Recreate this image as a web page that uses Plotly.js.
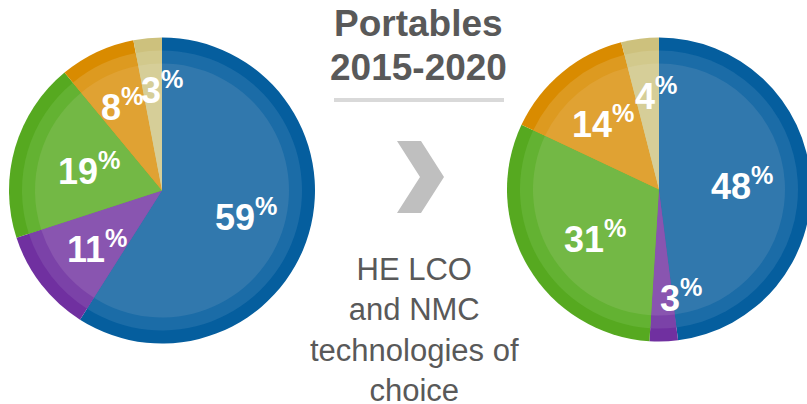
<!DOCTYPE html>
<html>
<head>
<meta charset="utf-8">
<script src="https://cdn.plot.ly/plotly-3.0.1.min.js"></script>
<style>
  html, body { margin: 0; padding: 0; background: #ffffff; overflow: hidden; }
  #chart { width: 815px; height: 404px; }
</style>
</head>
<body>
<div id="chart"></div>
<script>
// ---- data ----
const categories = ['Chemistry 1', 'Chemistry 2', 'Chemistry 3', 'Chemistry 4', 'Chemistry 5'];
const values2015 = [59, 11, 19, 8, 3];
const values2020 = [48, 3, 31, 14, 4];
const titleLines = ['Portables', '2015-2020'];
const noteLines = ['HE LCO', 'and NMC', 'technologies of', 'choice'];

// ---- styles ----
const outerColors = ['#055e9e', '#7030a0', '#56a920', '#d98b00', '#cdc17d'];
const midColors   = ['#1b6ca7', '#7b42a8', '#63b232', '#dd9a20', '#d2c98c'];
const innerColors = ['#3178ad', '#8955b0', '#73b845', '#e0a233', '#d6ce98'];

const W = 815, H = 404;
const pies = [
  { values: values2015, cx: 162, cy: 190.5, r: 153,
    labelFrac: [0.57, 0.56, 0.50, 0.62, 0.67], labelDx: [0, 3, 0, 0, 10], labelDy: [0, 4, 0, 0, 0] },
  { values: values2020, cx: 659, cy: 189.5, r: 152,
    labelFrac: [0.55, 0.70, 0.52, 0.58, 0.63], labelDx: [0, 19, 4, 0, 9], labelDy: [0, 0, 7, 0, 0] }
];
const ringWidth = 13;

function px(x) { return x / W; }
function py(y) { return 1 - y / H; }

const traces = [];
const annotations = [];

pies.forEach(p => {
  [[p.r, outerColors], [p.r - ringWidth, midColors], [p.r - 2 * ringWidth, innerColors]].forEach(([rr, cols]) => {
    traces.push({
      type: 'pie',
      labels: categories,
      values: p.values,
      sort: false,
      direction: 'clockwise',
      rotation: 0,
      textinfo: 'none',
      hoverinfo: 'none',
      marker: { colors: cols, line: { width: 0 } },
      domain: { x: [px(p.cx - rr), px(p.cx + rr)], y: [py(p.cy + rr), py(p.cy - rr)] },
      showlegend: false
    });
  });
  // labels derived from slice angles
  const total = p.values.reduce((a, b) => a + b, 0);
  let cum = 0;
  p.values.forEach((v, i) => {
    const mid = (cum + v / 2) / total * 2 * Math.PI;
    cum += v;
    const d = p.r * p.labelFrac[i];
    const x = p.cx + Math.sin(mid) * d + p.labelDx[i];
    const y = p.cy - Math.cos(mid) * d + p.labelDy[i];
    annotations.push({
      xref: 'paper', yref: 'paper', x: px(x), y: py(y),
      xanchor: 'center', yanchor: 'middle', showarrow: false,
      text: '<b>' + Math.round(v / total * 100) + '<sup>%</sup></b>',
      font: { family: 'Liberation Sans, Arial, sans-serif', size: 36, color: '#ffffff' }
    });
  });
});

// title
annotations.push({
  xref: 'paper', yref: 'paper', x: px(418.5), y: py(23), xanchor: 'center', yanchor: 'middle',
  showarrow: false, text: '<b>' + titleLines[0] + '</b>',
  font: { family: 'Liberation Sans, Arial, sans-serif', size: 37, color: '#595959' }
});
annotations.push({
  xref: 'paper', yref: 'paper', x: px(418.5), y: py(67), xanchor: 'center', yanchor: 'middle',
  showarrow: false, text: '<b>' + titleLines[1] + '</b>',
  font: { family: 'Liberation Sans, Arial, sans-serif', size: 37, color: '#595959' }
});
// note
annotations.push({
  xref: 'paper', yref: 'paper', x: px(414.5), y: py(330), xanchor: 'center', yanchor: 'middle',
  showarrow: false, text: noteLines.join('<br>'),
  font: { family: 'Liberation Sans, Arial, sans-serif', size: 31, color: '#595959' }
});

const shapes = [
  { type: 'line', xref: 'paper', yref: 'paper', x0: px(334), x1: px(504), y0: py(100), y1: py(100),
    line: { color: '#d9d9d9', width: 4 } },
  { type: 'path', xref: 'paper', yref: 'paper',
    path: 'M ' + px(397) + ',' + py(141) + ' L ' + px(421) + ',' + py(141) + ' L ' + px(444) + ',' + py(177) +
          ' L ' + px(421) + ',' + py(213) + ' L ' + px(397) + ',' + py(213) + ' L ' + px(420) + ',' + py(177) + ' Z',
    fillcolor: '#bfbfbf', line: { width: 0 } }
];

Plotly.newPlot('chart', traces, {
  width: W, height: H,
  margin: { l: 0, r: 0, t: 0, b: 0 },
  paper_bgcolor: '#ffffff',
  showlegend: false,
  annotations: annotations,
  shapes: shapes
}, { staticPlot: true, displayModeBar: false });
</script>
</body>
</html>
